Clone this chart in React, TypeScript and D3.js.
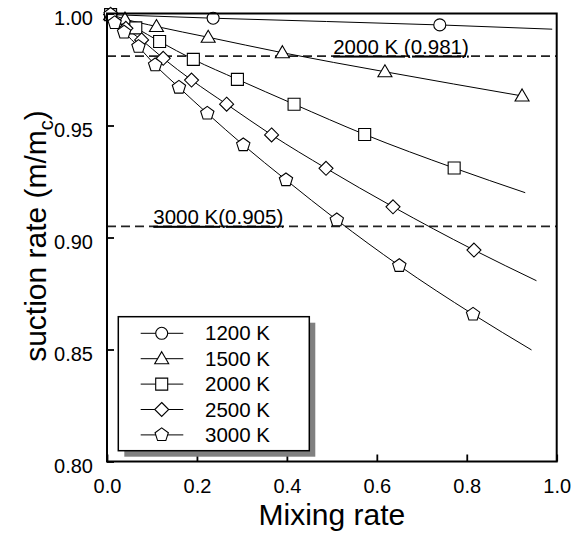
import React, { useEffect, useRef } from "react";
import * as d3 from "d3";

// temperatures and marker shapes, in legend order
const temps = ["1200 K", "1500 K", "2000 K", "2500 K", "3000 K"];
const shapes = ["circle", "triangle", "square", "diamond", "pentagon"];

// marker points (mixing rate, suction rate)
const mix1200 = [0.008, 0.236, 0.74];
const rate1200 = [0.9995, 0.9979, 0.9949];
const mix1500 = [0.008, 0.04, 0.11, 0.225, 0.39, 0.618, 0.923];
const rate1500 = [0.9995, 0.9975, 0.9942, 0.9894, 0.9825, 0.974, 0.9632];
const mix2000 = [0.008, 0.064, 0.117, 0.192, 0.29, 0.416, 0.573, 0.772];
const rate2000 = [0.9995, 0.9936, 0.9875, 0.9795, 0.9706, 0.9595, 0.946, 0.931];
const mix2500 = [0.008, 0.042, 0.077, 0.125, 0.188, 0.266, 0.366, 0.487, 0.636, 0.816];
const rate2500 = [0.9995, 0.9934, 0.9882, 0.98, 0.9703, 0.9595, 0.9458, 0.9309, 0.9137, 0.8944];
const mix3000 = [0.008, 0.017, 0.038, 0.07, 0.107, 0.16, 0.223, 0.303, 0.398, 0.511, 0.65, 0.814];
const rate3000 = [0.9995, 0.9958, 0.9916, 0.9852, 0.977, 0.967, 0.9554, 0.9413, 0.9257, 0.9078, 0.8874, 0.8657];

// where each curve stops (no marker there); null = stops at last marker
const endMix = [0.99, null, 0.93, 0.955, 0.944];
const endRate = [0.993, null, 0.92, 0.8807, 0.8498];

// critical suction rates (dashed lines)
const refLabels = ["2000 K (0.981)", "3000 K(0.905)"];
const refValues = [0.981, 0.905];

const xTicks = [0, 0.2, 0.4, 0.6, 0.8, 1.0];
const yTicks = [0.8, 0.85, 0.9, 0.95, 1.0];

const W = 579;
const H = 535;
const FONT = "'Liberation Sans', Arial, Helvetica, sans-serif";

// marker outline centred on 0,0
const markerPath = (shape: string) => {
  switch (shape) {
    case "circle":
      return d3.symbol(d3.symbolCircle, 113)();
    case "triangle":
      return "M0,-7L7,5L-7,5Z";
    case "square":
      return "M-6,-6H6V6H-6Z";
    case "diamond":
      return "M0,-7L7,0L0,7L-7,0Z";
    default: {
      // pentagon, apex up
      const pts = d3.range(5).map((i) => {
        const a = -Math.PI / 2 + (i * 2 * Math.PI) / 5;
        return [7 * Math.cos(a), 7 * Math.sin(a)];
      });
      return "M" + pts.map((p) => p.join(",")).join("L") + "Z";
    }
  }
};

const App = () => {
  const svgRef = useRef<SVGSVGElement>(null);

  useEffect(() => {
    const svg = d3.select(svgRef.current);
    svg.selectAll("*").remove();

    const x = d3.scaleLinear().domain([0, 1]).range([107, 556.7]);
    const y = d3.scaleLinear().domain([0.8, 1]).range([461.5, 13.5]);

    const series = [
      [mix1200, rate1200],
      [mix1500, rate1500],
      [mix2000, rate2000],
      [mix2500, rate2500],
      [mix3000, rate3000],
    ].map(([m, r], i) => ({
      name: temps[i],
      shape: shapes[i],
      points: m.map((v, j) => [v, r[j]] as [number, number]),
      end: endMix[i] != null ? ([endMix[i], endRate[i]] as [number, number]) : null,
    }));

    // dashed reference lines + underlined labels
    refValues.forEach((v) => {
      svg
        .append("line")
        .attr("x1", x(0))
        .attr("x2", x(1))
        .attr("y1", y(v))
        .attr("y2", y(v))
        .attr("stroke", "#222")
        .attr("stroke-width", 1.7)
        .attr("stroke-dasharray", "9,5");
    });
    svg
      .selectAll("text.ref")
      .data(refLabels)
      .join("text")
      .attr("class", "ref")
      .attr("x", (d, i) => (i === 0 ? x(0.503) : x(0.103)))
      .attr("y", (d, i) => y(refValues[i]) - 2.5)
      .attr("font-family", FONT)
      .attr("font-size", 20.5)
      .attr("text-decoration", "underline")
      .text((d) => d);

    // curves
    const line = d3
      .line<[number, number]>()
      .x((d) => x(d[0]))
      .y((d) => y(d[1]))
      .curve(d3.curveMonotoneX);

    svg
      .selectAll("path.curve")
      .data(series)
      .join("path")
      .attr("class", "curve")
      .attr("fill", "none")
      .attr("stroke", "#000")
      .attr("stroke-width", 1)
      .attr("d", (s) => line(s.end ? [...s.points, s.end] : s.points));

    // markers
    series.forEach((s) => {
      svg
        .append("g")
        .selectAll("path")
        .data(s.points)
        .join("path")
        .attr("transform", (d) => `translate(${x(d[0])},${y(d[1])})`)
        .attr("d", markerPath(s.shape))
        .attr("fill", "#fff")
        .attr("stroke", "#000")
        .attr("stroke-width", 1.1);
    });

    // axes, ticks inside
    const xAxis = svg
      .append("g")
      .attr("transform", `translate(0,${y(0.8)})`)
      .call(
        d3
          .axisBottom(x)
          .tickValues(xTicks)
          .tickFormat(d3.format(".1f"))
          .tickSizeInner(-7)
          .tickSizeOuter(0)
          .tickPadding(17.3)
      );
    const yAxis = svg
      .append("g")
      .attr("transform", `translate(${x(0)},0)`)
      .call(
        d3
          .axisLeft(y)
          .tickValues(yTicks)
          .tickFormat(d3.format(".2f"))
          .tickSizeInner(-7)
          .tickSizeOuter(0)
          .tickPadding(14)
      );
    [xAxis, yAxis].forEach((g) => {
      g.select(".domain").remove();
      g.selectAll("line").attr("stroke", "#000").attr("stroke-width", 1.8);
      g.selectAll("text")
        .attr("font-family", FONT)
        .attr("font-size", 20)
        .attr("fill", "#000");
    });
    yAxis.selectAll("text").attr("dy", "0.56em");

    // frame
    svg
      .append("rect")
      .attr("x", x(0))
      .attr("y", y(1))
      .attr("width", x(1) - x(0))
      .attr("height", y(0.8) - y(1))
      .attr("fill", "none")
      .attr("stroke", "#000")
      .attr("stroke-width", 2);

    // axis titles
    svg
      .append("text")
      .attr("x", (x(0) + x(1)) / 2)
      .attr("y", 525)
      .attr("text-anchor", "middle")
      .attr("font-family", FONT)
      .attr("font-size", 30)
      .text("Mixing rate");

    const yt = svg
      .append("text")
      .attr("transform", `translate(46,236) rotate(-90)`)
      .attr("text-anchor", "middle")
      .attr("font-family", FONT)
      .attr("font-size", 30);
    yt.append("tspan").text("suction rate (m/m");
    yt.append("tspan").attr("font-size", 20).attr("dy", 7).text("c");
    yt.append("tspan").attr("dy", -7).text(")");

    // legend with drop shadow
    const lg = svg.append("g").attr("transform", "translate(118.3,316.7)");
    lg.append("rect")
      .attr("x", 6)
      .attr("y", 6)
      .attr("width", 191)
      .attr("height", 134)
      .attr("fill", "#808080");
    lg.append("rect")
      .attr("width", 191)
      .attr("height", 134)
      .attr("fill", "#fff")
      .attr("stroke", "#000")
      .attr("stroke-width", 1.5);
    const row = lg
      .selectAll("g.row")
      .data(series)
      .join("g")
      .attr("class", "row")
      .attr("transform", (d, i) => `translate(0,${16.6 + i * 25.4})`);
    row.append("line")
      .attr("x1", 22.4)
      .attr("x2", 65)
      .attr("stroke", "#000")
      .attr("stroke-width", 1);
    row.append("path")
      .attr("transform", "translate(43.4,0)")
      .attr("d", (s) => markerPath(s.shape))
      .attr("fill", "#fff")
      .attr("stroke", "#000")
      .attr("stroke-width", 1.1);
    row.append("text")
      .attr("x", 86.7)
      .attr("y", 7)
      .attr("font-family", FONT)
      .attr("font-size", 20.5)
      .text((s) => s.name);
  }, []);

  return (
    <svg
      ref={svgRef}
      width={W}
      height={H}
      viewBox={`0 0 ${W} ${H}`}
      style={{ position: "absolute", left: 0, top: 0, background: "#fff" }}
    />
  );
};

export default App;
